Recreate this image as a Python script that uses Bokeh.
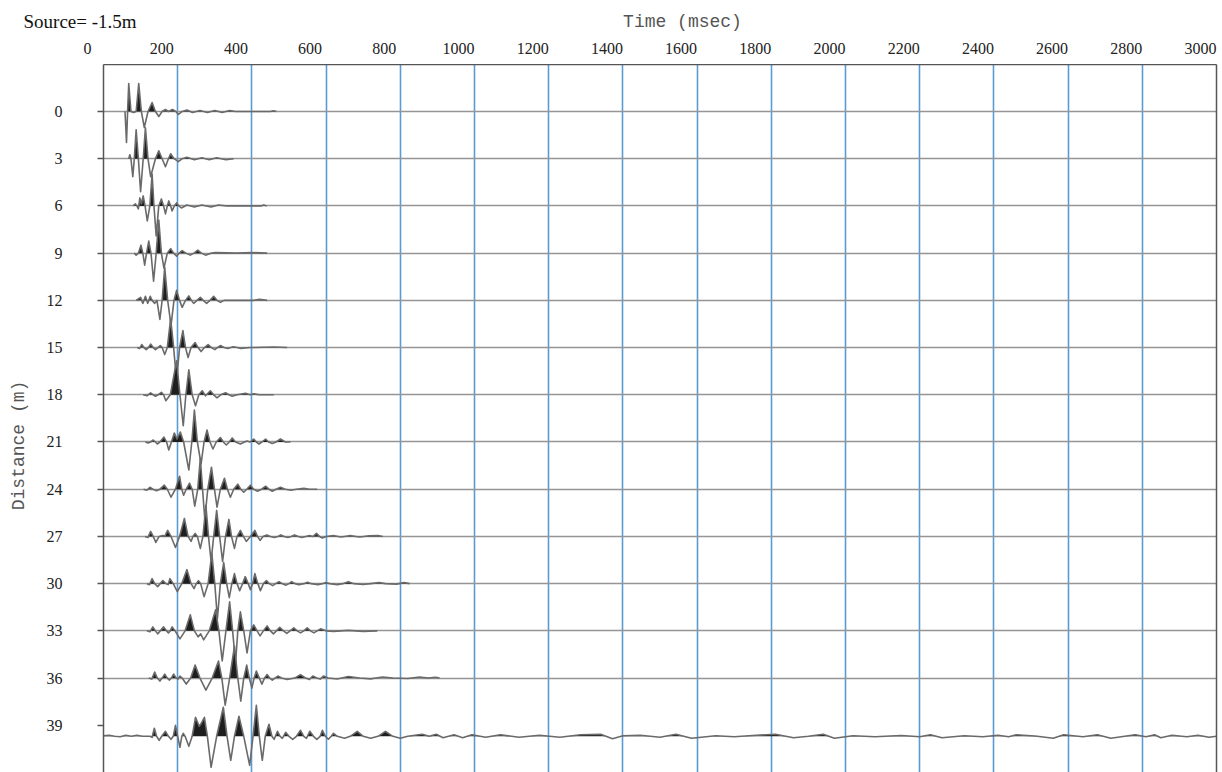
import numpy as np
from bokeh.plotting import figure
from bokeh.layouts import column
from bokeh.models import Range1d, LinearAxis, FixedTicker, ColumnDataSource
from bokeh.embed import file_html
from bokeh.resources import INLINE
from bokeh.core.properties import value

# ---------------- data ----------------
distances = [0, 3, 6, 9, 12, 15, 18, 21, 24, 27, 30, 33, 36, 39]
trace_baselines = [0, 3, 6, 9, 12, 15, 18, 21, 24, 27, 30, 33, 36, 39.7]
time_ticks = [0, 200, 400, 600, 800, 1000, 1200, 1400, 1600, 1800, 2000, 2200, 2400, 2600, 2800, 3000]

# amplitudes (display units, positive = up)
t00 = [58, 62, 65, 68, 74, 81, 88, 95, 102, 110, 120, 131, 140, 149, 158, 167, 175, 186, 195, 202, 212, 225, 240, 260, 280, 300, 320, 340, 356, 450, 458, 466]
a00 = [0, -31, 0, 28, 0, -1, 0, 28, 0, -16, 0, 9, 0, -5, 0, 2, 0, 2, 0, -3, 0, 1.5, -1, 1, -1, 1, -1, 1, 0, 0, 0.8, 0]

t03 = [68, 71, 74, 79, 83, 88, 94, 100, 107, 113, 120, 127, 140, 149, 158, 167, 175, 181, 190, 202, 212, 225, 245, 265, 285, 305, 330, 351]
a03 = [0, 4, 0, -18, 0, 29, 0, -33, 0, 31, 0, -18, 0, 8, 0, -8, 0, 5, 0, -3, 0, 1.5, -1, 1, -1, 1, -1, 0]

t06 = [80, 86, 90, 94, 98, 102, 107, 112, 118, 125, 131, 136, 142, 149, 156, 162, 167, 172, 176, 181, 185, 191, 197, 203, 210, 225, 245, 265, 290, 310, 333, 425, 432, 440]
a06 = [0, 2, 0, -3, 8, 2, 10, 0, -15, 0, 32, 0, -30, 0, 7, 0, -8, 0, 5, 0, -5, 0, 3, 0, -2, 1, -1, 1, -1, 1, 0, 0, 1, 0]

t09 = [83, 88, 94, 101, 106, 111, 116, 122, 128, 135, 142, 149, 156, 163, 172, 181, 189, 197, 204, 212, 222, 234, 244, 254, 264, 275, 290, 302, 360, 400, 441]
a09 = [0, -2, 0, 8, 0, -12, 0, 12, 0, -28, 0, 33, 0, -15, 0, 4.5, 0, -3, 0, 2.5, 0, -2, 0, 3, 0, -2, 0, 0.5, 0, 0.6, 0]

t12 = [88, 100, 106, 113, 119, 126, 131, 138, 144, 152, 158, 165, 173, 182, 190, 197, 205, 212, 221, 230, 237, 243, 252, 261, 269, 278, 287, 297, 306, 315, 325, 342, 405, 420, 441]
a12 = [0, 3, -3, 4, -3, 4, 0, -3, 0, -19, 0, 33, 0, -25, 0, 10, 0, -7, 0, 4.5, 0, -3, 0, 3, 0, -3, 0, 4, 0, -2, 0, 0, 0, 1, 0]

t15 = [91, 97, 103, 109, 115, 121, 127, 134, 140, 147, 153, 158, 165, 172, 181, 189, 197, 205, 214, 221, 228, 236, 247, 255, 263, 272, 282, 291, 300, 307, 315, 325, 335, 350, 370, 396, 460, 495]
a15 = [0, -1, 3, 0, -2, 0, 3.5, 0, -2, 0, 2, 0, -7, 0, 29, 0, -33, 0, 17, 0, -10, 0, 5, 0, -4, 0, 3, 0, -2, 0, 2, 0, -1, 0.8, -0.8, 0, 0.6, 0]

t18 = [107, 117, 127, 134, 140, 147, 156, 162, 168, 180, 197, 206, 215, 222, 230, 239, 248, 257, 266, 275, 288, 297, 306, 316, 329, 338, 347, 360, 383, 395, 405, 420, 459]
a18 = [0, -1, 2, 0, -1.5, 0, 2.5, 0, -6, 0, 34, 0, -31, 0, 25, 0, -11, 0, 4, -1, 4, 0, -3, 0, 2, 0, -1.5, 0, 1.5, 0, 1, 0, 0]

t21 = [113, 120, 127, 134, 140, 145, 152, 163, 170, 176, 183, 191, 198, 207, 216, 230, 238, 245, 253, 263, 271, 279, 287, 295, 304, 315, 323, 331, 339, 347, 356, 369, 380, 387, 395, 405, 412, 419, 427, 437, 445, 455, 465, 477, 490, 504]
a21 = [0, -1, 0, 2, 0, -2, 0, 5, 0, -8, 0, 9, 3, 10, 0, -28, 0, 32, 0, -22, 0, 12, 0, -7, 0, 4.5, 0, -3, 0, 4, 0, -2, 0, 1, 0, 3, 0, -2, 0, 3, 0, -1.5, 0, 3, 0, 0]

t24 = [108, 117, 125, 133, 143, 152, 164, 172, 182, 194, 205, 211, 216, 223, 232, 239, 246, 254, 261, 267, 273, 281, 291, 299, 306, 315, 326, 334, 342, 351, 362, 370, 378, 386, 396, 405, 415, 426, 437, 446, 455, 465, 477, 490, 505, 520, 540, 555, 576]
a24 = [0, -1, 2, 0, -1.5, 0, 4, 0, -8, 0, 13, 0, -6, 0, 6, 0, -17, 0, 31, 0, -30, 0, 22, 0, -18, 0, 11, 0, -8, 0, 5, 0, -3, 0, 4, 0, -2, 0, 3, 0, -2, 0, 2, 0, -1, 0, 1, 0, 0]

t27 = [112, 120, 127, 134, 141, 150, 160, 165, 173, 182, 194, 205, 218, 228, 236, 241, 247, 253, 261, 268, 276, 283, 290, 297, 305, 313, 321, 329, 338, 345, 353, 360, 369, 377, 385, 396, 408, 415, 422, 430, 440, 450, 460, 470, 478, 487, 497, 506, 515, 525, 535, 545, 555, 565, 574, 582, 590, 600, 620, 640, 665, 690, 715, 740, 753]
a27 = [0, -1, 5, 0, -6, 0, 1, 0, 6, 0, -11, 0, 18, 0, -5, 0, 3, 0, -12, 0, 31, 0, -25, 0, 26, 0, -25, 0, 17, 0, -12, 0, 6, 0, -5, 0, 6, 0, -4, 0, 1.5, 0, -1, 0, 1.5, 0, -1, 0, 1.5, 0, -1, 0, 1, 0, 3, 0, -1.5, 0, 0.8, -0.5, 0.8, -0.5, 0.6, 0.8, 0]

t30 = [117, 124, 131, 138, 146, 153, 160, 168, 174, 179, 188, 199, 211, 225, 236, 244, 250, 256, 262, 271, 282, 292, 300, 307, 315, 324, 332, 339, 346, 353, 360, 367, 375, 382, 390, 396, 402, 408, 416, 423, 431, 439, 447, 456, 464, 473, 482, 492, 500, 507, 516, 527, 540, 550, 560, 578, 590, 598, 610, 630, 645, 660, 675, 700, 720, 743, 760, 790, 810, 825]
a30 = [0, -1, 5, 0, -3, 0, 3, 0, -1, 5, 0, -8, 0, 14, 0, -5, 0, 3, 0, -13, 0, 30, 0, -35, 0, 21, 0, -14, 0, 10, 0, -7, 0, 7, 0, -6, 0, 10, 0, -7, 0, 3, 0, -2, 0, 2, 0, -1.5, 0, 2, 0, -1, 0, 1.5, 0, -1, 0, 1, 0, -1, 0, 2, 0, -0.8, 0, 1, 0, -0.5, 1, 0]

t33 = [117, 125, 133, 140, 146, 153, 162, 170, 175, 180, 185, 193, 206, 220, 234, 245, 255, 262, 270, 285, 302, 311, 320, 330, 340, 348, 356, 362, 369, 378, 387, 396, 405, 414, 422, 431, 441, 450, 458, 466, 475, 485, 494, 503, 513, 522, 531, 540, 549, 558, 567, 576, 585, 600, 620, 660, 700, 738]
a33 = [0, -1, 4, 0, -3, 0, 4, 0, -2, 0, 4, 0, -8, 0, 16, 0, -6, -3, -9, 0, 21, 0, -30, 0, 29, 0, -32, 0, 19, 0, -22, 0, 6, 0, -5, 0, 5, 0, -3, 0, 3.5, 0, -2.5, 0, 3, 0, -2, 0, 3, 0, -2, 0, 2, 0, -0.5, 0.5, -0.5, 0]

t36 = [122, 130, 138, 145, 152, 158, 165, 172, 178, 183, 189, 196, 201, 206, 212, 223, 235, 247, 260, 276, 293, 310, 319, 328, 340, 353, 362, 370, 378, 386, 393, 400, 406, 412, 420, 427, 434, 441, 448, 455, 462, 470, 480, 495, 515, 531, 545, 555, 564, 575, 584, 593, 605, 630, 660, 690, 720, 752, 780, 820, 852, 875, 895, 906]
a36 = [0, -1, 6, 0, -3, 0, 4, 0, -2, 0, 4, 0, -1, 2, 0, -6, 0, 13, 0, -12, 0, 17, 0, -27, 0, 32, 0, -23, 0, 13, 0, -10, 0, 7, 0, -6, 0, 3.5, 0, -2, 0, 2, 0, -1.5, 0, 3.5, 0, -1.5, 2, 0, -1, 2, 0, -1, 1.5, 0, -0.8, 1, 0, -0.5, 1, 0, 0.8, 0]

t39 = [0, 15, 30, 45, 60, 75, 90, 105, 118, 125, 131, 137, 143, 150, 157, 167, 175, 182, 188, 194, 200, 206, 211, 215, 220, 230, 239, 248, 258, 262, 272, 280, 290, 305, 323, 333, 343, 353, 365, 378, 394, 403, 412, 420, 428, 436, 446, 454, 460, 469, 476, 482, 491, 500, 510, 520, 531, 540, 547, 556, 566, 575, 584, 590, 598, 606, 614, 620, 630, 650, 665, 684, 700, 720, 740, 760, 780, 800, 820, 859, 878, 897, 915, 945, 968, 993, 1030, 1070, 1120, 1175, 1230, 1286, 1340, 1372, 1400, 1447, 1500, 1543, 1585, 1650, 1700, 1760, 1811, 1860, 1900, 1940, 1970, 2020, 2080, 2150, 2200, 2229, 2260, 2320, 2370, 2411, 2440, 2460, 2510, 2560, 2588, 2640, 2679, 2715, 2781, 2810, 2833, 2850, 2880, 2920, 2950, 2980, 3000]
a39 = [0.5, 1, 0, -0.5, 1, 0, 1, 0, 0, 0, -1, 8, 0, -4, 0, 5, 0, -3, 0, 11, 0, -11, 0, 3, 0, -10, 0, 19, 10, 12, 19, 0, -31, 0, 29, 0, -24, 0, 20, 0, -29, 0, 31, 0, -24, 0, 12, 0, -3, 5, 0, -2, 4, 0, -3, 0, 6, 0, -2, 5, 0, -3, 0, 6, 0, -3, 0, 3, 0, -2, 0, 5, 0, -2, 0, 5, 0, -2, 0, 2, 0, 2, -1.5, 1.5, -1.5, 1.5, -1, 1.5, -1, 1, -1, 1.5, 2, -2.5, 0.5, 1, -1, 2, -2, 0.5, -0.5, 1, 2, -1.5, 0, 2, -2, 0.5, -0.5, 0.8, -0.5, 1.5, -1.5, 0.5, -0.5, 1, -0.5, 1.5, 0.3, -2, 1.5, -0.5, 1.5, -2, 1.5, -0.5, 1.5, -1.5, 1, -0.5, 1, -1, 0]

traces_t = [t00, t03, t06, t09, t12, t15, t18, t21, t24, t27, t30, t33, t36, t39]
traces_a = [a00, a03, a06, a09, a12, a15, a18, a21, a24, a27, a30, a33, a36, a39]

# ---------------- geometry / styling ----------------
W = 1222
HEAD_H = 64           # header strip holding the top texts
MAIN_H = 708
LEFT = 103            # frame left edge
RIGHT_BORDER = 6
FRAME_W = W - LEFT - RIGHT_BORDER
T0, T1 = 0, 3000
Y_TOP, Y_BOTTOM = -2.986, 42.0
PX_PER_M = MAIN_H / (Y_BOTTOM - Y_TOP)
GAIN = 1.0 / PX_PER_M          # display units -> metres of offset
PX_PER_MS = FRAME_W / (T1 - T0)
SERIF = "Liberation Serif"
MONO = "Liberation Mono"
EDGE = "#555555"
NBSP = "\u00a0"

# ---------- main plot ----------
p = figure(width=W, height=MAIN_H,
           x_range=Range1d(T0, T1), y_range=Range1d(Y_BOTTOM, Y_TOP),
           x_axis_location="above", y_axis_location="left",
           output_backend="svg", toolbar_location=None,
           min_border_left=LEFT, min_border_right=RIGHT_BORDER,
           min_border_top=0, min_border_bottom=0,
           background_fill_color="white", border_fill_color="white",
           outline_line_color=None)
p.frame_align = False

p.xgrid.ticker = FixedTicker(ticks=time_ticks[1:-1])
p.xgrid.grid_line_color = "#5b9bd5"
p.xgrid.grid_line_width = 1.6
p.ygrid.ticker = FixedTicker(ticks=distances[:-1])
p.ygrid.grid_line_color = "#959595"
p.ygrid.grid_line_width = 1.6

xa = p.xaxis[0]
xa.ticker = FixedTicker(ticks=[])
xa.major_tick_out = 0
xa.major_tick_in = 0
xa.minor_tick_out = 0
xa.minor_tick_in = 0
xa.major_label_standoff = 0
xa.axis_line_color = EDGE
xa.axis_line_width = 1.5

ya = p.yaxis[0]
ya.ticker = FixedTicker(ticks=distances)
ya.major_label_text_font = SERIF
ya.major_label_text_font_size = "16px"
ya.major_label_text_color = "#222222"
ya.major_label_standoff = 35
ya.major_tick_out = 6
ya.major_tick_in = 0
ya.minor_tick_out = 0
ya.minor_tick_in = 0
ya.major_tick_line_color = EDGE
ya.major_tick_line_width = 1.3
ya.axis_line_color = EDGE
ya.axis_line_width = 1.5
ya.axis_label = "Distance (m)" + NBSP * 5
ya.axis_label_text_font = MONO
ya.axis_label_text_font_style = "normal"
ya.axis_label_text_font_size = "18px"
ya.axis_label_text_color = EDGE
ya.axis_label_standoff = 15

ra = LinearAxis(ticker=FixedTicker(ticks=[]),
                major_tick_out=0, major_tick_in=0, minor_tick_out=0, minor_tick_in=0,
                major_label_standoff=0, axis_line_color=EDGE, axis_line_width=1.5)
p.add_layout(ra, "right")


def with_crossings(t, a):
    xs, ys = [t[0]], [a[0]]
    for i in range(1, len(t)):
        a0, a1 = a[i - 1], a[i]
        if a0 * a1 < 0:
            xs.append(t[i - 1] + (t[i] - t[i - 1]) * a0 / (a0 - a1))
            ys.append(0.0)
        xs.append(t[i])
        ys.append(a[i])
    return np.array(xs, float), np.array(ys, float)


for base, t, a in zip(trace_baselines, traces_t, traces_a):
    xs, ys = with_crossings(t, a)
    yline = base - ys * GAIN
    yfill = base - np.maximum(ys, 0) * GAIN
    p.varea(x=xs, y1=np.full_like(xs, base), y2=yfill, fill_color="#1e1e1e")
    p.line(xs, yline, line_color="#6a6a6a", line_width=1.6, line_join="round")

# ---------- header strip (source note, axis title, time tick labels) ----------
h = figure(width=W, height=HEAD_H,
           x_range=Range1d(T0 - LEFT / PX_PER_MS, T0 + (W - LEFT) / PX_PER_MS),
           y_range=Range1d(HEAD_H, 0),
           x_axis_location=None, y_axis_location=None,
           output_backend="svg", toolbar_location=None,
           min_border=0, min_border_left=0, min_border_right=0,
           min_border_top=0, min_border_bottom=0,
           background_fill_color="white", border_fill_color="white",
           outline_line_color=None)
h.frame_align = False
h.grid.visible = False

tick_src = ColumnDataSource(dict(x=time_ticks, y=[48] * len(time_ticks),
                                 text=[str(v) for v in time_ticks]))
h.text(x="x", y="y", text="text", source=tick_src, x_offset=-16,
       text_align="center", text_baseline="middle",
       text_font=value(SERIF), text_font_size="16px", text_color="#222222")

h.text(x=[T0 + (682 - LEFT) / PX_PER_MS], y=[21], text=["Time (msec)"],
       text_align="center", text_baseline="middle",
       text_font=value(MONO), text_font_size="18px", text_color=EDGE)

h.text(x=[T0 + (23 - LEFT) / PX_PER_MS], y=[21], text=["Source= -1.5m"],
       text_align="left", text_baseline="middle",
       text_font=value(SERIF), text_font_size="19px", text_color="#111111")

layout = column(h, p, spacing=0)
open("out.html", "w").write(file_html(layout, INLINE))
